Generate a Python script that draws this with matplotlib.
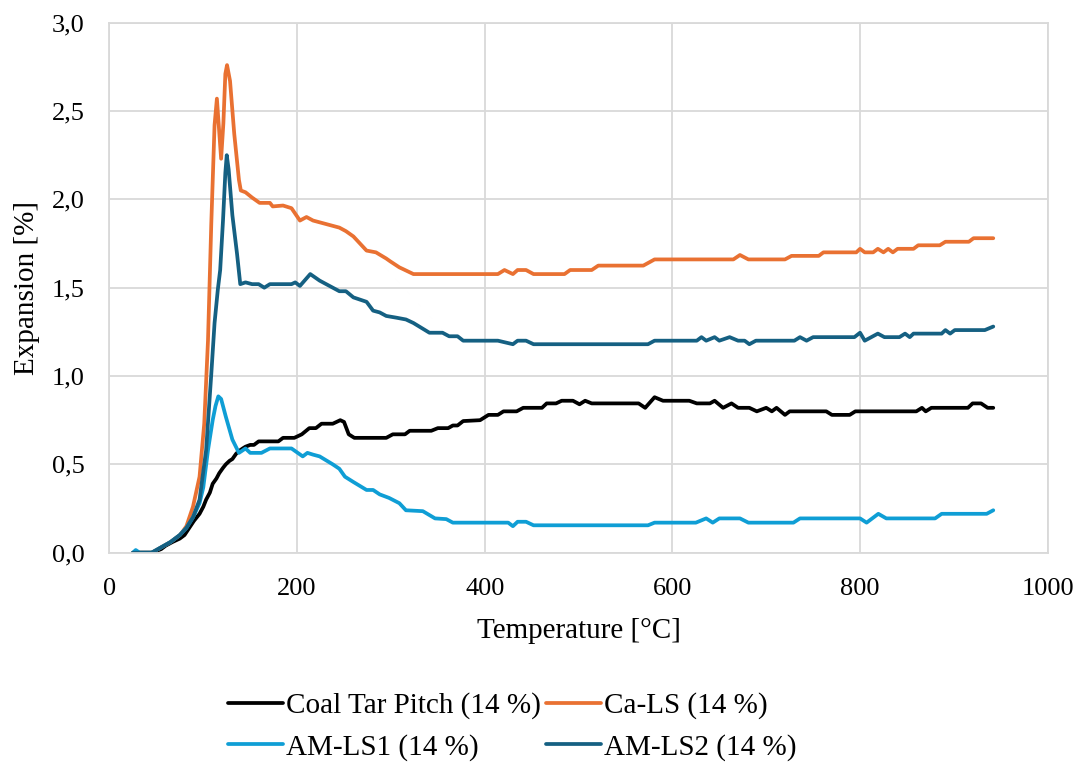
import matplotlib
matplotlib.use("Agg")
import matplotlib.pyplot as plt
from matplotlib.ticker import FuncFormatter, MultipleLocator

plt.rcParams['font.family'] = ['Liberation Serif', 'DejaVu Serif']

# (temperature °C, expansion %)
coal_tar_pitch = [(25,0),(45,0),(55,0.02),(60,0.04),(67,0.06),(75,0.08),(80,0.1),(85,0.14),(90,0.18),(96,0.22),
    (100,0.26),(103,0.30),(107,0.34),(110,0.39),(114,0.42),(117,0.45),(121,0.48),(124,0.50),(128,0.52),(131,0.53),
    (135,0.56),(138,0.575),(142,0.59),(145,0.60),(150,0.61),(154,0.61),(159,0.63),(180,0.63),(185,0.65),(197,0.65),
    (205,0.67),(213,0.705),(220,0.705),(226,0.73),(238,0.73),(246,0.75),(250,0.74),(255,0.67),(261,0.65),(295,0.65),
    (302,0.67),(315,0.67),(320,0.69),(343,0.69),(350,0.705),(361,0.705),(366,0.72),(371,0.72),(377,0.745),(395,0.75),
    (404,0.78),(414,0.78),(420,0.80),(434,0.80),(441,0.82),(461,0.82),(466,0.845),(476,0.845),(482,0.86),(494,0.86),
    (501,0.84),(507,0.86),(514,0.845),(564,0.845),(571,0.82),(581,0.88),(590,0.86),(618,0.86),(626,0.845),(640,0.845),
    (645,0.86),(654,0.82),(663,0.845),(670,0.82),(682,0.82),(690,0.80),(700,0.82),(706,0.80),(711,0.82),(720,0.78),
    (725,0.80),(764,0.80),(770,0.78),(789,0.78),(795,0.80),(860,0.80),(866,0.82),(870,0.80),(876,0.82),(915,0.82),
    (920,0.845),(929,0.845),(936,0.82),(942,0.82)]

ca_ls = [(25,0),(45,0),(55,0.03),(65,0.06),(75,0.1),(78,0.12),(82,0.15),(89,0.26),(96,0.43),(101,0.73),(105,1.2),
    (108.5,1.86),(112,2.42),(114.5,2.57),(116.6,2.41),(119,2.23),(121.4,2.43),(123.5,2.71),(125.3,2.76),(128.5,2.67),
    (133,2.37),(138,2.11),(140,2.05),(145,2.04),(152,2.01),(160,1.98),(171,1.98),(174,1.96),(185,1.965),(194,1.95),
    (203,1.88),(210,1.90),(217,1.88),(231,1.86),(245,1.84),(252,1.82),(260,1.79),(267,1.75),(274,1.71),(284,1.70),
    (295,1.665),(299,1.65),(309,1.615),(313,1.605),(324,1.577),(414,1.577),(421,1.60),(430,1.577),(435,1.60),(444,1.60),
    (452,1.577),(485,1.577),(491,1.60),(514,1.60),(521,1.625),(569,1.625),(581,1.66),(665,1.66),(672,1.685),(681,1.66),
    (720,1.66),(727,1.68),(756,1.68),(761,1.70),(796,1.70),(800,1.72),(805,1.70),(814,1.70),(819,1.72),(825,1.70),
    (830,1.72),(835,1.70),(840,1.72),(857,1.72),(862,1.74),(885,1.74),(891,1.76),(916,1.76),(921,1.78),(942,1.78)]

am_ls1 = [(25,0),(28,0.015),(32,0),(45,0),(55,0.03),(65,0.06),(75,0.1),(82,0.14),(89,0.2),(96,0.28),(100,0.37),
    (105,0.58),(110,0.75),(113,0.83),(116,0.885),(119,0.87),(124,0.77),(131,0.64),(138,0.565),(145,0.59),(150,0.565),
    (162,0.565),(171,0.59),(194,0.59),(206,0.545),(211,0.565),(217,0.555),(224,0.545),(238,0.50),(245,0.475),(251,0.43),
    (260,0.40),(274,0.355),(281,0.355),(288,0.33),(298,0.31),(309,0.28),(316,0.24),(334,0.235),(347,0.194),(359,0.19),
    (366,0.17),(425,0.17),(430,0.15),(435,0.175),(444,0.175),(452,0.155),(574,0.155),(581,0.17),(625,0.17),(636,0.194),
    (643,0.17),(650,0.194),(672,0.194),(681,0.17),(729,0.17),(736,0.194),(800,0.194),(807,0.17),(819.5,0.22),(828,0.194),
    (880,0.194),(887,0.22),(935,0.22),(942,0.24)]

am_ls2 = [(25,0),(45,0),(55,0.03),(65,0.06),(75,0.1),(82,0.14),(89,0.2),(96,0.3),(103,0.58),(108.5,1.01),(112,1.3),
    (115.5,1.49),(118,1.6),(121,1.88),(123.5,2.15),(125,2.25),(127,2.17),(131,1.91),(136,1.69),(139.4,1.52),(145,1.53),
    (152,1.52),(159,1.52),(165,1.50),(171,1.52),(194,1.52),(198,1.53),(203,1.51),(214,1.577),(224,1.54),(238,1.50),
    (245,1.48),(252,1.48),(260,1.445),(274,1.42),(281,1.37),(288,1.36),(295,1.34),(306,1.33),(316,1.32),(324,1.30),
    (341,1.245),(355,1.245),(362,1.225),(371,1.225),(377,1.20),(414,1.20),(430,1.18),(435,1.20),(444,1.20),(452,1.18),
    (574,1.18),(581,1.20),(626,1.20),(631,1.22),(636,1.20),(645,1.22),(650,1.20),(661,1.22),(670,1.20),(677,1.20),
    (682,1.18),(689,1.20),(730,1.20),(736,1.22),(743,1.20),(750,1.22),(794,1.22),(800,1.245),(805,1.20),(812,1.22),
    (819,1.24),(826,1.22),(842,1.22),(848,1.24),(853,1.22),(857,1.24),(887,1.24),(891,1.26),(896,1.24),(901,1.26),
    (933,1.26),(942,1.28)]

series_labels = ["Coal Tar Pitch (14 %)", "Ca-LS (14 %)", "AM-LS1 (14 %)", "AM-LS2 (14 %)"]
series_data = [coal_tar_pitch, ca_ls, am_ls1, am_ls2]
series_colors = ["#000000", "#E97132", "#0F9ED5", "#156082"]

fig = plt.figure(figsize=(10.85, 7.69), dpi=100)
ax = fig.add_axes([0.1009, 0.2813, 0.8647, 0.6892])

handles = []
for data, lab, col in zip(series_data, series_labels, series_colors):
    t, e = zip(*data)
    h, = ax.plot(t, e, color=col, lw=2.7, label=lab, solid_joinstyle='round', solid_capstyle='round')
    handles.append(h)

ax.set_xlim(0, 1000)
ax.set_ylim(0, 3.0)
ax.xaxis.set_major_locator(MultipleLocator(200))
ax.yaxis.set_major_locator(MultipleLocator(0.5))
ax.yaxis.set_major_formatter(FuncFormatter(lambda v, p: f"{v:.1f}".replace('.', ',')))
ax.xaxis.set_major_formatter(FuncFormatter(lambda v, p: f"{v:.0f}"))
ax.grid(True, color="#d9d9d9", lw=1.3)
ax.set_axisbelow(True)
for s in ax.spines.values():
    s.set_color("#d9d9d9")
    s.set_linewidth(1.3)
ax.tick_params(length=0, labelsize=19, pad=18)
ax.set_xlabel("Temperature [°C]", fontsize=21, labelpad=13)
ax.set_ylabel("Expansion [%]", fontsize=21, labelpad=8)

# row-major legend order: (CTP, Ca-LS) / (AM-LS1, AM-LS2)
order = [0, 2, 1, 3]
fig.legend(handles=[handles[i] for i in order], labels=[series_labels[i] for i in order],
           loc='center', bbox_to_anchor=(0.472, 0.055), ncol=2,
           frameon=False, fontsize=21, handlelength=1.9, handletextpad=0.1, columnspacing=0.17,
           labelspacing=0.5)

fig.savefig("out.png", dpi=100)
